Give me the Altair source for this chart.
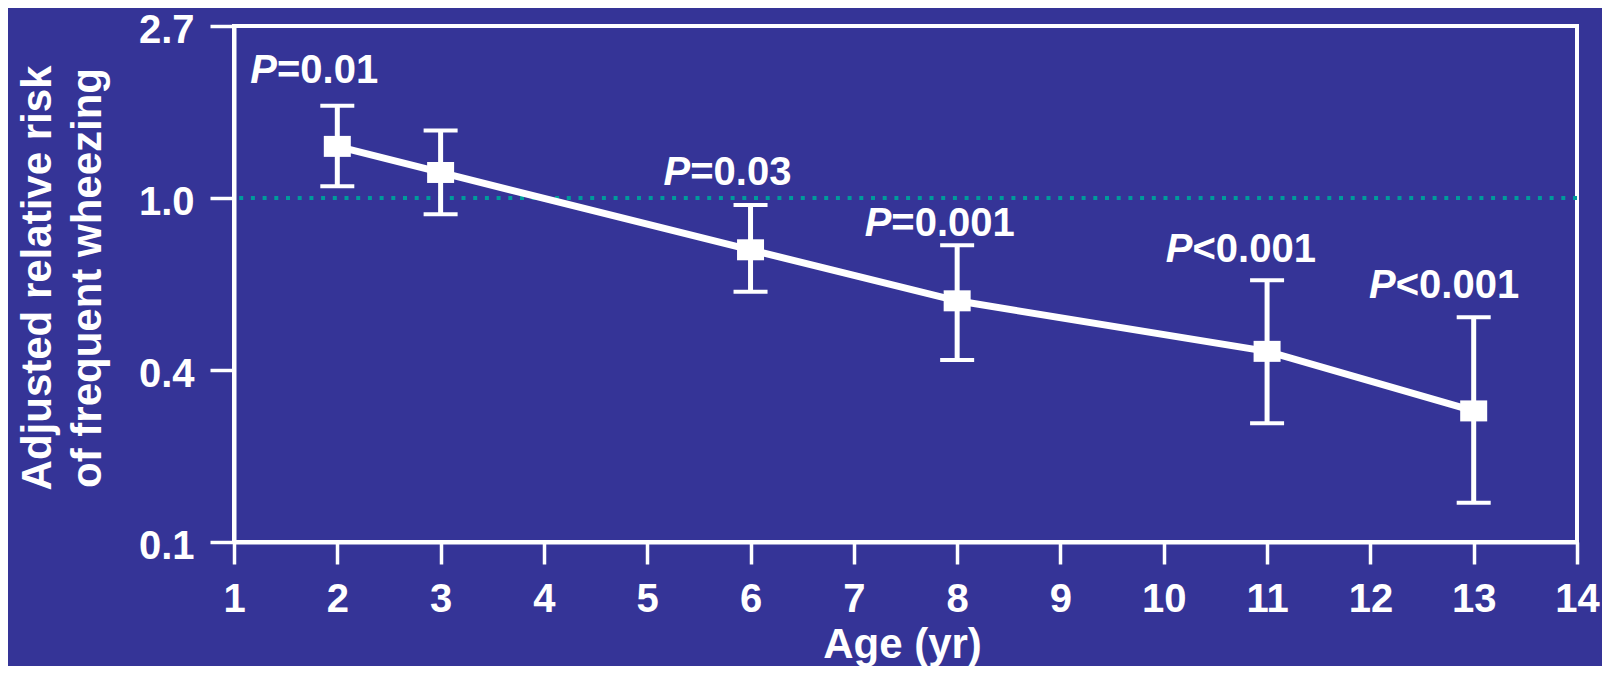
import altair as alt
import pandas as pd

# ---- data ----
ages = [2, 3, 6, 8, 11, 13]
rr = [1.35, 1.16, 0.74, 0.55, 0.41, 0.29]
rr_lo = [1.07, 0.91, 0.58, 0.39, 0.27, 0.17]
rr_hi = [1.71, 1.48, 0.96, 0.76, 0.62, 0.50]

p_letter = ["P", "P", "P", "P", "P"]
p_rest = ["=0.01", "=0.03", "=0.001", "<0.001", "<0.001"]
p_x = [1.416, 5.416, 7.363, 10.278, 12.245]
p_rr = [1.95, 1.08, 0.80, 0.69, 0.56]

x_ticks = list(range(1, 15))
y_tick_exps = [-2, -1, 0, 1]          # ticks at e^k
y_tick_labels = ["0.1", "0.4", "1.0", "2.7"]
ref_rr = [1.0]

x_title = "Age (yr)"
y_title = ["Adjusted relative risk", "of frequent wheezing"]

# ---- styling ----
BG = "#353497"
WHITE = "#ffffff"
TEAL = "#009b9b"
FONT = "Liberation Sans"

df = pd.DataFrame({"age": ages, "rr": rr, "lo": rr_lo, "hi": rr_hi})
lab_df = pd.DataFrame({"px": p_x, "prr": p_rr, "rest": p_rest, "p": p_letter})
ref_df = pd.DataFrame({"rr": ref_rr})

label_expr = " : ".join(
    f"datum.value == {e} ? '{l}'" for e, l in zip(y_tick_exps, y_tick_labels)
) + " : ''"

xscale = alt.Scale(domain=[1, 14], nice=False, zero=False)
yscale = alt.Scale(domain=[-2, 1], nice=False, zero=False)

xaxis = alt.Axis(
    values=x_ticks, format="d", title=x_title, grid=False,
    domain=True, domainColor=WHITE, domainWidth=4,
    ticks=True, tickColor=WHITE, tickWidth=3.5, tickSize=22,
    labelFont=FONT, labelFontSize=40, labelFontWeight="bold", labelColor=WHITE,
    labelPadding=15, labelFlush=False, labelOverlap=False,
    titleFont=FONT, titleFontSize=42, titleFontWeight="bold", titleColor=WHITE,
    titleX=668, titleY=115, titleAlign="center", titleBaseline="alphabetic",
)
yaxis = alt.Axis(
    values=y_tick_exps, labelExpr=label_expr, title=y_title, grid=False,
    domain=True, domainColor=WHITE, domainWidth=4,
    ticks=True, tickColor=WHITE, tickWidth=3.5, tickSize=24,
    labelFont=FONT, labelFontSize=40, labelFontWeight="bold", labelColor=WHITE,
    labelPadding=16, labelOffset=4, labelFlush=False, labelOverlap=False,
    titleFont=FONT, titleFontSize=42, titleFontWeight="bold", titleColor=WHITE,
    titleX=-184, titleY=251.5, titleAlign="center", titleBaseline="alphabetic",
    titleLineHeight=50,
)


def X(field):
    return alt.X(field, type="quantitative", scale=xscale, axis=xaxis)


def Y(field):
    return alt.Y(field, type="quantitative", scale=yscale, axis=yaxis)


ref = alt.Chart(ref_df).transform_calculate(
    ln="log(datum.rr)"
).mark_rule(color=TEAL, strokeWidth=4, strokeDash=[4, 7.7], strokeCap="butt").encode(
    y=Y("ln")
)

base = alt.Chart(df).transform_calculate(
    ln="log(datum.rr)", lnlo="log(datum.lo)", lnhi="log(datum.hi)"
)

bars = base.mark_rule(color=WHITE, strokeWidth=5).encode(
    x=X("age"), y=Y("lnlo"), y2="lnhi:Q",
)

caps = base.transform_fold(["lnlo", "lnhi"], as_=["k", "v"]).mark_tick(
    orient="horizontal", color=WHITE, size=34, thickness=4, opacity=1
).encode(x=X("age"), y=Y("v"))

line = base.mark_line(color=WHITE, strokeWidth=7).encode(x=X("age"), y=Y("ln"))

squares = base.mark_point(
    shape="M-1.2857,-1L1.2857,-1L1.2857,1L-1.2857,1Z",
    size=441, filled=True, color=WHITE, opacity=1, strokeWidth=0,
).encode(x=X("age"), y=Y("ln"))

lab_base = alt.Chart(lab_df).transform_calculate(ly="log(datum.prr)")

txt_p = lab_base.mark_text(
    align="right", baseline="alphabetic", font=FONT, fontSize=40,
    fontWeight="bold", fontStyle="italic", color=WHITE,
).encode(x=X("px"), y=Y("ly"), text="p:N")

txt_rest = lab_base.mark_text(
    align="left", baseline="alphabetic", font=FONT, fontSize=40,
    fontWeight="bold", color=WHITE,
).encode(x=X("px"), y=Y("ly"), text="rest:N")

chart = alt.layer(ref, bars, caps, line, squares, txt_p, txt_rest).properties(
    width=1343,
    height=516,
    padding={"left": 226, "top": 18, "right": 25, "bottom": 124},
    autosize=alt.AutoSizeParams(type="none"),
    background=BG,
).configure_view(stroke=WHITE, strokeWidth=4)

chart.save("out.html", embed_options={"renderer": "svg", "actions": False})
